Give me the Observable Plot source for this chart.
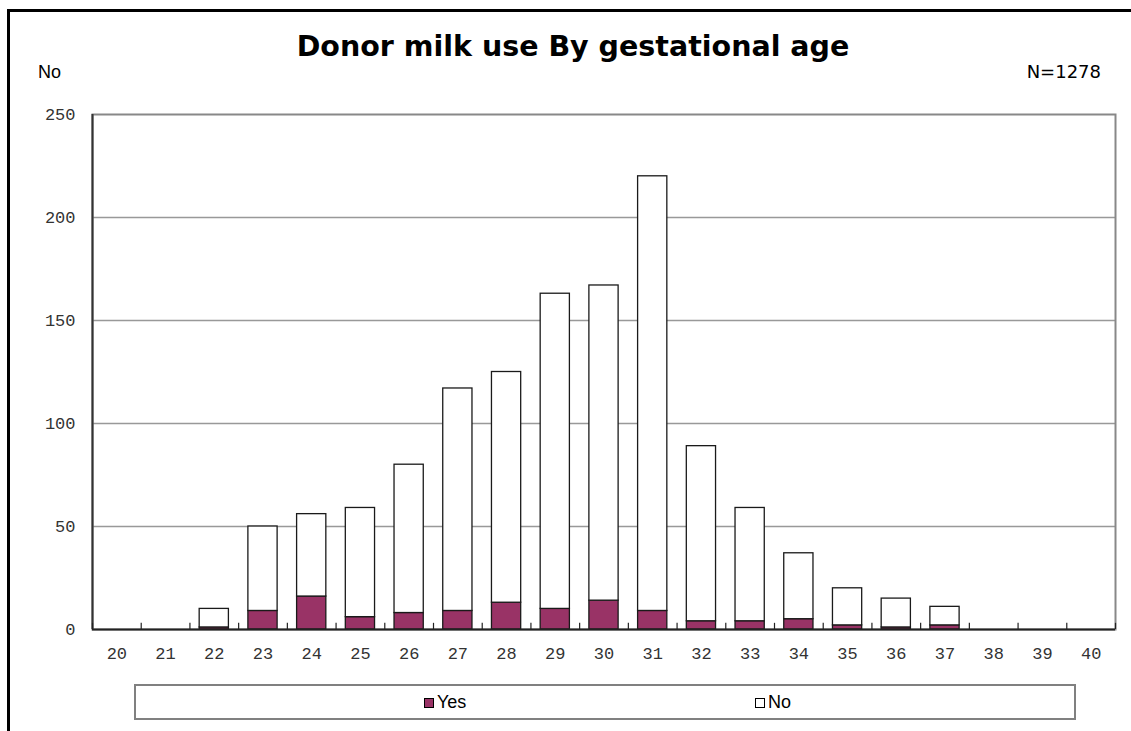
<!DOCTYPE html>
<html><head><meta charset="utf-8">
<script src="https://cdn.jsdelivr.net/npm/d3@7"></script>
<script src="https://cdn.jsdelivr.net/npm/@observablehq/plot@0.6"></script>
<style>
html,body{margin:0;padding:0;background:#fff;width:1131px;height:731px;overflow:hidden;position:relative;font-family:"Liberation Sans",Arial,sans-serif}
#chart{position:absolute;left:0;top:0}
#border{position:absolute;left:7px;top:9px;width:1300px;height:900px;border-left:3px solid #000;border-top:3px solid #000;box-sizing:border-box}
.t{position:absolute;white-space:nowrap;color:#000}
#title{left:0;width:1146px;text-align:center;top:33px;font:bold 28.5px/28.5px "DejaVu Sans",Verdana,sans-serif}
#ylab{left:38px;top:63px;font:18px/18px "Liberation Sans",Arial,sans-serif}
#ntot{right:30px;top:63px;font:18px/18px "DejaVu Sans",Tahoma,sans-serif}
#legend{position:absolute;left:134px;top:684px;width:942px;height:36px;border:2px solid #808080;box-sizing:border-box}
.sw{position:absolute;width:10px;height:10px;border:1px solid #000;box-sizing:border-box}
.lt{position:absolute;font:18px/18px "Liberation Sans",Arial,sans-serif}
</style>
</head><body>
<div id="border"></div>
<div id="chart"></div>
<div class="t" id="title"></div>
<div class="t" id="ylab"></div>
<div class="t" id="ntot"></div>
<div id="legend"></div>
<script>
// ---- data ----
const ages = [20,21,22,23,24,25,26,27,28,29,30,31,32,33,34,35,36,37,38,39,40];
const yesCounts = [0,0,1,9,16,6,8,9,13,10,14,9,4,4,5,2,1,2,0,0,0];
const noCounts  = [0,0,9,41,40,53,72,108,112,153,153,211,85,55,32,18,14,9,0,0,0];
const seriesNames = ["Yes","No"];
const seriesColors = ["#993366","#ffffff"];
const yTicks = [0,50,100,150,200,250];
const titleText = "Donor milk use By gestational age";
const yLabelText = "No";
const totalText = "N=1278";

document.getElementById("title").textContent = titleText;
document.getElementById("ylab").textContent = yLabelText;
document.getElementById("ntot").textContent = totalText;

// stacked rows
const rows = [];
ages.forEach((a, i) => {
  const y = yesCounts[i], n = noCounts[i];
  if (y + n > 0) {
    rows.push({ga: a, series: seriesNames[0], y1: 0, y2: y});
    rows.push({ga: a, series: seriesNames[1], y1: y, y2: y + n});
  }
});
const half = 0.5, barHalf = 0.3;
const bounds = ages.map(a => a - half).concat([ages[ages.length - 1] + half]);
const monoFont = '"Liberation Mono","Courier New",monospace';

const chart = Plot.plot({
  width: 1131, height: 731,
  marginLeft: 92, marginRight: 16, marginTop: 114, marginBottom: 102,
  style: {background: "transparent", overflow: "visible"},
  x: {domain: [ages[0] - half, ages[ages.length - 1] + half]},
  y: {domain: [yTicks[0], yTicks[yTicks.length - 1]]},
  color: {domain: seriesNames, range: seriesColors},
  marks: [
    Plot.ruleY(yTicks.slice(1, -1), {stroke: "#999", strokeWidth: 1.5}),
    Plot.frame({stroke: "#888", strokeWidth: 2}),
    Plot.rectY(rows, {x1: d => d.ga - barHalf, x2: d => d.ga + barHalf, y1: "y1", y2: "y2", fill: "series", stroke: "#1a1a1a", strokeWidth: 1.3}),
    Plot.ruleY([0], {stroke: "#222", strokeWidth: 2}),
    Plot.ruleX([bounds[0]], {stroke: "#333", strokeWidth: 2}),
    Plot.ruleX(bounds, {y1: 0, y2: 3, stroke: "#222", strokeWidth: 1.2}),
    Plot.axisY({ticks: yTicks, tickSize: 0, tickPadding: 17, label: null, fontFamily: monoFont, fontSize: 17, fill: "#333", style: {letterSpacing: "3px"}}),
    Plot.axisX({ticks: ages, tickSize: 0, tickPadding: 17, label: null, tickFormat: d => String(d), fontFamily: monoFont, fontSize: 17, fill: "#333", style: {letterSpacing: "3px"}})
  ]
});
document.getElementById("chart").appendChild(chart);

// legend
const lg = document.getElementById("legend");
const legendPos = [{sw: 288, tx: 301}, {sw: 619, tx: 632}];
seriesNames.forEach((s, i) => {
  const sw = document.createElement("div");
  sw.className = "sw";
  sw.style.left = legendPos[i].sw + "px";
  sw.style.top = "12px";
  sw.style.background = seriesColors[i];
  lg.appendChild(sw);
  const t = document.createElement("div");
  t.className = "lt";
  t.style.left = legendPos[i].tx + "px";
  t.style.top = "7px";
  t.textContent = s;
  lg.appendChild(t);
});
</script>
</body></html>
